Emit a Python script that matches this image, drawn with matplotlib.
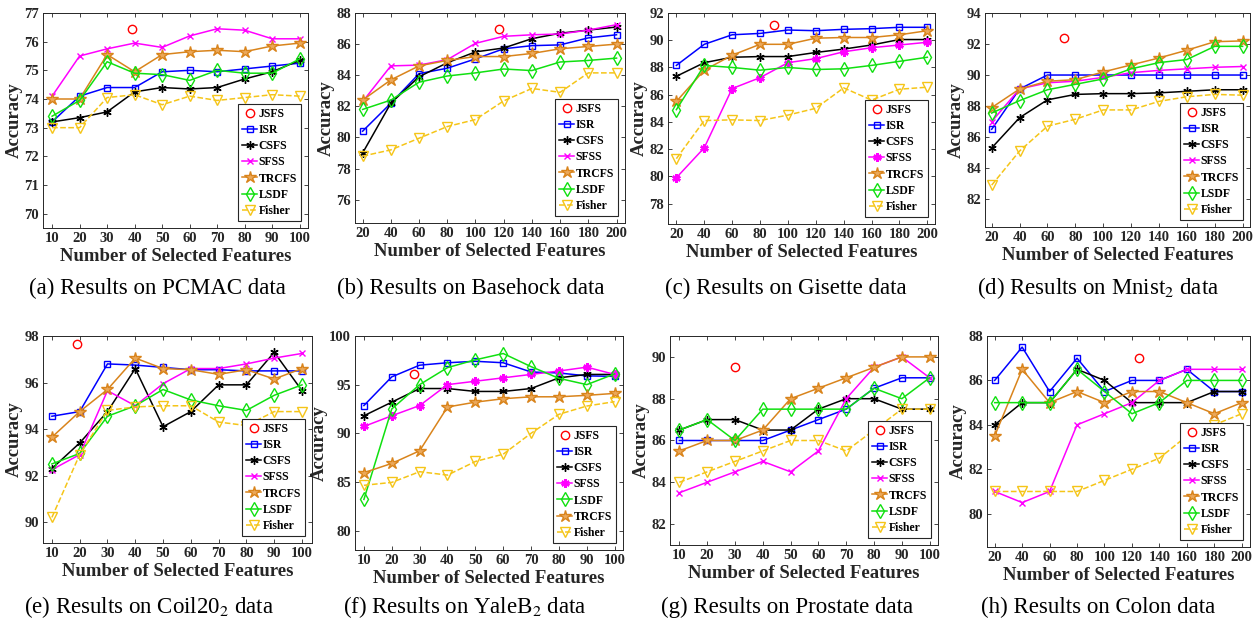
import matplotlib
matplotlib.use("Agg")
import matplotlib.pyplot as plt

plt.rcParams['font.family'] = ['Liberation Serif', 'DejaVu Serif']
plt.rcParams['mathtext.fontset'] = 'stix'

# x values (number of selected features)
x_small = [10, 20, 30, 40, 50, 60, 70, 80, 90, 100]
x_large = [20, 40, 60, 80, 100, 120, 140, 160, 180, 200]

# (a) PCMAC
pcmac_jsfs = (39, 76.45)
pcmac_isr = [73.2, 74.1, 74.4, 74.4, 74.95, 75.0, 74.95, 75.05, 75.15, 75.25]
pcmac_csfs = [73.2, 73.35, 73.55, 74.25, 74.4, 74.35, 74.4, 74.7, 74.95, 75.35]
pcmac_sfss = [74.1, 75.5, 75.75, 75.95, 75.8, 76.2, 76.45, 76.4, 76.1, 76.1]
pcmac_trcfs = [74.0, 74.0, 75.55, 74.95, 75.55, 75.65, 75.7, 75.65, 75.85, 75.95]
pcmac_lsdf = [73.4, 73.95, 75.3, 74.9, 74.85, 74.65, 75.0, 74.9, 74.9, 75.4]
pcmac_fisher = [73.0, 73.0, 74.05, 74.15, 73.8, 74.1, 73.95, 74.05, 74.15, 74.1]

# (b) Basehock
base_jsfs = (117, 87.0)
base_isr = [80.4, 82.2, 84.1, 84.45, 85.05, 85.7, 85.9, 85.95, 86.4, 86.6]
base_csfs = [79.0, 82.2, 83.9, 84.8, 85.5, 85.75, 86.35, 86.7, 86.9, 87.1]
base_sfss = [82.3, 84.6, 84.65, 85.0, 86.05, 86.5, 86.6, 86.65, 86.9, 87.25]
base_trcfs = [82.4, 83.7, 84.6, 84.95, 85.2, 85.2, 85.4, 85.7, 85.85, 86.0]
base_lsdf = [81.8, 82.4, 83.55, 83.95, 84.15, 84.4, 84.3, 84.85, 84.95, 85.1]
base_fisher = [78.8, 79.2, 79.95, 80.7, 81.15, 82.35, 83.15, 82.9, 84.15, 84.15]

# (c) Gisette
gis_jsfs = (90, 91.15)
gis_isr = [88.15, 89.7, 90.4, 90.5, 90.75, 90.7, 90.8, 90.85, 90.95, 90.95]
gis_csfs = [87.35, 88.35, 88.75, 88.8, 88.8, 89.1, 89.35, 89.65, 90.05, 90.05]
gis_sfss = [79.9, 82.1, 86.45, 87.25, 88.35, 88.65, 89.15, 89.45, 89.65, 89.85]
gis_trcfs = [85.5, 87.8, 88.9, 89.7, 89.7, 90.15, 90.2, 90.2, 90.4, 90.7]
gis_lsdf = [84.9, 88.15, 88.0, 87.8, 88.0, 87.85, 87.9, 88.15, 88.45, 88.75]
gis_fisher = [81.3, 84.1, 84.15, 84.1, 84.5, 85.0, 86.5, 85.6, 86.4, 86.55]

# (d) Mnist2
mnist_jsfs = (72, 92.4)
mnist_isr = [86.5, 89.1, 90.0, 90.0, 90.0, 90.0, 90.0, 90.0, 90.0, 90.0]
mnist_csfs = [85.3, 87.25, 88.4, 88.75, 88.8, 88.8, 88.85, 88.95, 89.05, 89.05]
mnist_sfss = [87.0, 89.1, 89.5, 89.6, 89.85, 90.15, 90.3, 90.4, 90.5, 90.55]
mnist_trcfs = [87.9, 89.1, 89.6, 89.7, 90.2, 90.65, 91.1, 91.6, 92.15, 92.2]
mnist_lsdf = [87.55, 88.35, 89.05, 89.4, 89.75, 90.4, 90.8, 91.0, 91.85, 91.85]
mnist_fisher = [82.9, 85.1, 86.7, 87.15, 87.75, 87.75, 88.3, 88.6, 88.75, 88.7]

# (e) Coil20_2
coil_jsfs = (19, 97.64)
coil_isr = [94.55, 94.75, 96.8, 96.75, 96.65, 96.55, 96.55, 96.5, 96.5, 96.5]
coil_csfs = [92.3, 93.4, 94.75, 96.6, 94.1, 94.75, 95.9, 95.9, 97.3, 95.65]
coil_sfss = [92.25, 92.9, 95.65, 95.0, 95.95, 96.6, 96.6, 96.8, 97.05, 97.25]
coil_trcfs = [93.65, 94.75, 95.7, 97.05, 96.6, 96.55, 96.35, 96.55, 96.15, 96.6]
coil_lsdf = [92.5, 92.95, 94.55, 95.0, 95.7, 95.25, 95.0, 94.8, 95.45, 95.9]
coil_fisher = [90.2, 92.9, 94.8, 94.95, 95.0, 95.0, 94.3, 94.15, 94.75, 94.75]

# (f) YaleB2
yale_jsfs = (28, 96.1)
yale_isr = [92.85, 95.8, 97.0, 97.25, 97.4, 97.25, 96.3, 96.2, 95.9, 95.85]
yale_csfs = [91.8, 93.2, 94.6, 94.6, 94.3, 94.3, 94.6, 95.7, 96.05, 96.05]
yale_sfss = [90.7, 91.8, 92.85, 95.0, 95.35, 95.7, 96.05, 96.4, 96.8, 96.05]
yale_lsdf = [83.2, 92.5, 95.0, 96.75, 97.55, 98.2, 96.85, 95.65, 95.0, 96.1]
yale_trcfs = [85.95, 86.9, 88.2, 92.7, 93.2, 93.55, 93.75, 93.75, 93.9, 94.1]
yale_fisher = [84.65, 84.95, 86.05, 85.7, 87.1, 87.85, 90.0, 91.95, 92.8, 93.25]

# (g) Prostate
pros_jsfs = (30, 89.5)
pros_isr = [86, 86, 86, 86, 86.5, 87, 87.5, 88.5, 89, 89]
pros_csfs = [86.5, 87, 87, 86.5, 86.5, 87.5, 88, 88, 87.5, 87.5]
pros_sfss = [83.5, 84, 84.5, 85, 84.5, 85.5, 88, 89.5, 90, 89]
pros_trcfs = [85.5, 86, 86, 86.5, 88, 88.5, 89, 89.5, 90, 90]
pros_lsdf = [86.5, 87, 86, 87.5, 87.5, 87.5, 87.5, 88.5, 88, 89]
pros_fisher = [84, 84.5, 85, 85.5, 86, 86, 85.5, 86.5, 87.5, 87.5]

# (h) Colon
colon_jsfs = (125, 87.0)
colon_isr = [86, 87.5, 85.5, 87, 85.5, 86, 86, 86.5, 85.5, 85.5]
colon_csfs = [84, 85, 85, 86.5, 86, 85, 85, 85, 85.5, 85.5]
colon_sfss = [81, 80.5, 81, 84, 84.5, 85, 86, 86.5, 86.5, 86.5]
colon_trcfs = [83.5, 86.5, 85, 85.5, 85, 85.5, 85.5, 85, 84.5, 85]
colon_lsdf = [85, 85, 85, 86.5, 85.5, 84.5, 85, 86, 86, 86]
colon_fisher = [81, 81, 81, 81, 81.5, 82, 82.5, 83.5, 84, 84.5]

W, H = 1258, 623
ASTER = (6, 2, 0)
ORANGE = '#D9841C'
YELLOW = '#F5C518'

# method styles
def style(name, sfss_star=False):
    if name == 'ISR':
        return dict(color='blue', marker='s', mfc='none', ms=5)
    if name == 'CSFS':
        return dict(color='black', marker=ASTER, ms=6)
    if name == 'SFSS':
        if sfss_star:
            return dict(color='magenta', marker=ASTER, ms=6, mew=1.8)
        return dict(color='magenta', marker='x', ms=5)
    if name == 'TRCFS':
        return dict(color=ORANGE, marker='*', mfc='#EBA85A', ms=9)
    if name == 'LSDF':
        return dict(color='#10E010', marker='d', mfc='none', ms=7)
    if name == 'Fisher':
        return dict(color=YELLOW, marker='v', mfc='none', ms=7, ls='--')

panels = [
    # box (left, top, right, bottom) px, xs, xlim, ylim, yticks, jsfs, series, caption
    ((43, 13, 308, 228), x_small, (6.7, 103), (69.5, 77), range(70, 78, 1), pcmac_jsfs,
     [('ISR', pcmac_isr), ('CSFS', pcmac_csfs), ('SFSS', pcmac_sfss), ('TRCFS', pcmac_trcfs),
      ('LSDF', pcmac_lsdf), ('Fisher', pcmac_fisher)], False,
     '(a) Results on PCMAC data', (157, 288)),
    ((355, 13, 625, 223), x_large, (14.6, 206), (74.5, 88), range(76, 89, 2), base_jsfs,
     [('ISR', base_isr), ('CSFS', base_csfs), ('SFSS', base_sfss), ('TRCFS', base_trcfs),
      ('LSDF', base_lsdf), ('Fisher', base_fisher)], False,
     '(b) Results on Basehock data', (471, 288)),
    ((668, 13, 935, 224), x_large, (14, 205.5), (76.5, 92), range(78, 93, 2), gis_jsfs,
     [('ISR', gis_isr), ('CSFS', gis_csfs), ('SFSS', gis_sfss), ('TRCFS', gis_trcfs),
      ('LSDF', gis_lsdf), ('Fisher', gis_fisher)], True,
     '(c) Results on Gisette data', (786, 288)),
    ((985, 13, 1250, 227), x_large, (15.2, 205.3), (80.2, 94), range(82, 95, 2), mnist_jsfs,
     [('ISR', mnist_isr), ('CSFS', mnist_csfs), ('SFSS', mnist_sfss), ('TRCFS', mnist_trcfs),
      ('LSDF', mnist_lsdf), ('Fisher', mnist_fisher)], False,
     '(d) Results on Mnist$_2$ data', (1098, 288)),
    ((43, 336, 312, 543), x_small, (6.8, 103.6), (89.1, 98), range(90, 99, 2), coil_jsfs,
     [('ISR', coil_isr), ('CSFS', coil_csfs), ('SFSS', coil_sfss), ('TRCFS', coil_trcfs),
      ('LSDF', coil_lsdf), ('Fisher', coil_fisher)], False,
     '(e) Results on Coil20$_2$ data', (149, 607)),
    ((355, 336, 623, 550), x_small, (6.8, 103), (78, 100), range(80, 101, 5), yale_jsfs,
     [('ISR', yale_isr), ('CSFS', yale_csfs), ('SFSS', yale_sfss), ('LSDF', yale_lsdf),
      ('TRCFS', yale_trcfs), ('Fisher', yale_fisher)], True,
     '(f) Results on YaleB$_2$ data', (465, 607)),
    ((670, 336, 938, 545), x_small, (6.65, 103), (81, 91), range(82, 91, 2), pros_jsfs,
     [('ISR', pros_isr), ('CSFS', pros_csfs), ('SFSS', pros_sfss), ('TRCFS', pros_trcfs),
      ('LSDF', pros_lsdf), ('Fisher', pros_fisher)], False,
     '(g) Results on Prostate data', (787, 607)),
    ((987, 336, 1250, 547), x_large, (14.4, 206), (78.5, 88), range(80, 89, 2), colon_jsfs,
     [('ISR', colon_isr), ('CSFS', colon_csfs), ('SFSS', colon_sfss), ('TRCFS', colon_trcfs),
      ('LSDF', colon_lsdf), ('Fisher', colon_fisher)], False,
     '(h) Results on Colon data', (1098, 607)),
]

fig = plt.figure(figsize=(W / 100, H / 100), dpi=100)

for box, xs, xlim, ylim, yticks, jsfs, series, sfss_star, caption, cap_pos in panels:
    l, t, r, b = box
    ax = fig.add_axes([l / W, 1 - b / H, (r - l) / W, (b - t) / H])
    ax.plot([jsfs[0]], [jsfs[1]], ls='none', marker='o', mfc='none', color='red', ms=6,
            label='JSFS')
    for name, vals in series:
        st = style(name, sfss_star)
        ax.plot(xs, vals, lw=1.1, label=name, **st)
    ax.set_xlim(*xlim)
    ax.set_ylim(*ylim)
    ax.set_xticks(xs)
    ax.set_yticks(list(yticks))
    ax.tick_params(direction='in', length=3, width=0.6, top=True, right=True,
                   labelsize=10.5, colors='#262626', pad=3)
    for lab in ax.get_xticklabels() + ax.get_yticklabels():
        lab.set_fontweight('bold')
    for sp in ax.spines.values():
        sp.set_color('#262626')
        sp.set_linewidth(0.7)
    ax.set_xlabel('Number of Selected Features', fontsize=13.5, fontweight='bold',
                  color='#262626', labelpad=2)
    ax.set_ylabel('Accuracy', fontsize=13.5, fontweight='bold', color='#262626', labelpad=1)
    leg = ax.legend(loc='lower right', prop={'weight': 'bold', 'size': 8.5},
                    handlelength=1.2, handletextpad=0.15, labelspacing=0.35,
                    borderpad=0.35, borderaxespad=0.6, fancybox=False, framealpha=1)
    leg.get_frame().set_edgecolor('#262626')
    leg.get_frame().set_linewidth(0.8)
    fig.text(cap_pos[0] / W, 1 - cap_pos[1] / H, caption, ha='center', va='center',
             fontsize=16.5)

plt.savefig("out.png", dpi=100)
